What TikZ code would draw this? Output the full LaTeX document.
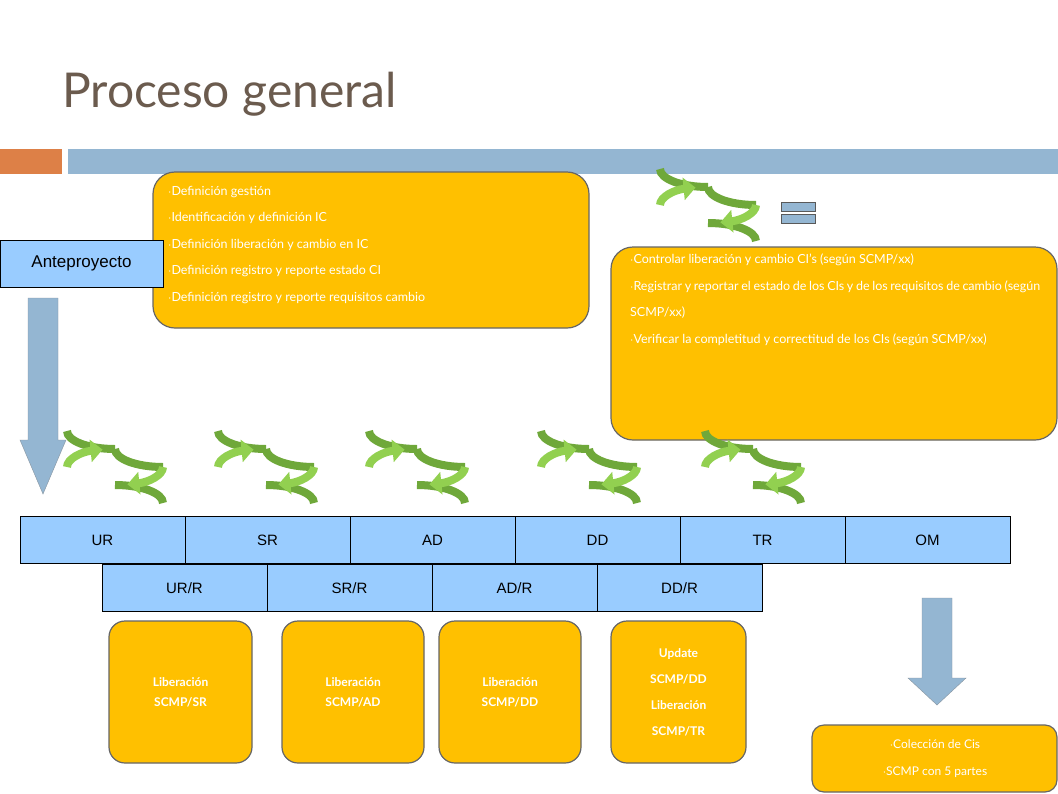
\documentclass[tikz,border=0pt]{standalone}
\usepackage{fontspec}
\setmainfont{Lato}
\newfontfamily\arialf{Liberation Sans}
\usetikzlibrary{arrows.meta}
\definecolor{ybox}{HTML}{FFC000}
\definecolor{bluebox}{HTML}{99CCFF}
\definecolor{barblue}{HTML}{94B6D2}
\definecolor{barorange}{HTML}{DD8047}
\definecolor{titlec}{HTML}{6B5B4E}
\definecolor{gl}{HTML}{92D050}
\definecolor{gd}{HTML}{6FA83A}
\tikzset{
 yb/.style={draw=gray!80!black,line width=1.2pt,fill=ybox,rounded corners=22pt},
 stage/.style={draw=black,fill=bluebox,minimum width=165pt,minimum height=47pt,font=\arialf\fontsize{15}{15}\selectfont,inner sep=0pt},
 wt/.style={text=white,font=\fontsize{12}{20}\selectfont\bfseries,align=center},
 bt/.style={text=white,font=\fontsize{12.5}{26}\selectfont,align=left,anchor=north west},
 pics/cyc/.style={code={
   \draw[gd,line width=8pt] (48,0) arc[start angle=270,end angle=180,x radius=48pt,y radius=18pt];
   \draw[gd,line width=8pt] (48,0) ++(0,0) (0,0) ++(0,0);
   \draw[gd,line width=8pt] (0,0) ++(48,0) arc[start angle=0,end angle=0,radius=0];
   \draw[gd,line width=8pt] (0,0) +(0,18) arc[start angle=90,end angle=0,x radius=48pt,y radius=18pt];
   \draw[gd,line width=8pt] (0,0) +(0,-18) arc[start angle=270,end angle=180,x radius=48pt,y radius=18pt];
   \draw[gl,line width=8pt,-{Triangle[length=12pt,width=22pt]}] (0,0) +(48,0) arc[start angle=360,end angle=285,x radius=48pt,y radius=18pt];
   \draw[gl,line width=8pt,-{Triangle[length=12pt,width=22pt]}] (0,0) +(-48,0) arc[start angle=180,end angle=105,x radius=48pt,y radius=18pt];
 }}
}
\begin{document}
\begin{tikzpicture}[x=1pt,y=-1pt]
\useasboundingbox (0,0) rectangle (1058,793);
\fill[white] (0,0) rectangle (1058,793);
\node[anchor=base west,text=titlec,font=\fontsize{48}{50}\selectfont,inner sep=0] (title) at (62,107) {Proceso general};
\fill[barorange] (0,149) rectangle (62,174);
\fill[barblue] (68,149) rectangle (1058,174);
% box 1
\draw[yb] (153,172) rectangle (589,328);
\node[anchor=north west,inner sep=0,font=\fontsize{12.5}{26.5}\selectfont,text=white,align=left] (b1) at (168,186) {$\cdot$Definición gestión\\ $\cdot$Identificación y definición IC\\ $\cdot$Definición liberación y cambio en IC\\ $\cdot$Definición registro y reporte estado CI\\ $\cdot$Definición registro y reporte requisitos cambio};
\node[draw=black,fill=bluebox,minimum width=163pt,minimum height=47pt,inner sep=0,font=\arialf\fontsize{17}{17}\selectfont] (ante) at (81.5,263.5) {Anteproyecto};
% down arrow left
\draw[draw=gray!60!barblue,fill=barblue] (28,298) -- (58,298) -- (58,440) -- (66,440) -- (43,494) -- (20,440) -- (28,440) -- cycle;
% box 2
\draw[yb] (611,247) rectangle (1057,440);
\node[anchor=north west,inner sep=0,text=white,font=\fontsize{12.5}{26.5}\selectfont,text width=410pt,align=justify] (b2) at (630,254) {$\cdot$Controlar liberación y cambio CI's (según SCMP/xx)\\ $\cdot$Registrar y reportar el estado de los CIs y de los requisitos de cambio (según SCMP/xx)\\ $\cdot$Verificar la completitud y correctitud de los CIs (según SCMP/xx)};
% top icon
\pic at (708,205) {cyc};
\draw[fill=barblue,draw=gray!70!black] (781,202) rectangle (815,211);
\draw[fill=barblue,draw=gray!70!black] (781,214) rectangle (815,223);
\foreach \x in {115,266,417,589,753} \pic at (\x,467) {cyc};
% stages
\node[stage] (ur) at (102.5,540) {UR};
\node[stage] (sr) at (267.5,540) {SR};
\node[stage] (ad) at (432.5,540) {AD};
\node[stage] (dd) at (597.5,540) {DD};
\node[stage] (tr) at (762.5,540) {TR};
\node[stage] (om) at (927.5,540) {OM};
\node[stage] (urr) at (184.5,588) {UR/R};
\node[stage] (srr) at (349.5,588) {SR/R};
\node[stage] (adr) at (514.5,588) {AD/R};
\node[stage] (ddr) at (679.5,588) {DD/R};
% bottom boxes
\draw[yb,rounded corners=16pt] (109,621) rectangle (252,763);
\node[wt] (l1) at (180.5,692) {Liberación\\SCMP/SR};
\draw[yb,rounded corners=16pt] (282,621) rectangle (424,763);
\node[wt] (l2) at (353,692) {Liberación\\SCMP/AD};
\draw[yb,rounded corners=16pt] (439,621) rectangle (581,763);
\node[wt] (l3) at (510,692) {Liberación\\SCMP/DD};
\draw[yb,rounded corners=16pt] (611,621) rectangle (746,763);
\node[wt,font=\fontsize{12}{26}\selectfont\bfseries] (l4) at (678.5,692) {Update\\SCMP/DD\\Liberación\\SCMP/TR};
% right arrow
\draw[draw=gray!60!barblue,fill=barblue] (922,598) -- (952,598) -- (952,678) -- (966,678) -- (937,705) -- (908,678) -- (922,678) -- cycle;
\draw[yb,rounded corners=12pt] (812,725) rectangle (1057,792);
\node[wt,font=\fontsize{12}{27}\selectfont] (l5) at (935,758.5) {$\cdot$Colección de Cis\\$\cdot$SCMP con 5 partes};
\end{tikzpicture}
\end{document}
